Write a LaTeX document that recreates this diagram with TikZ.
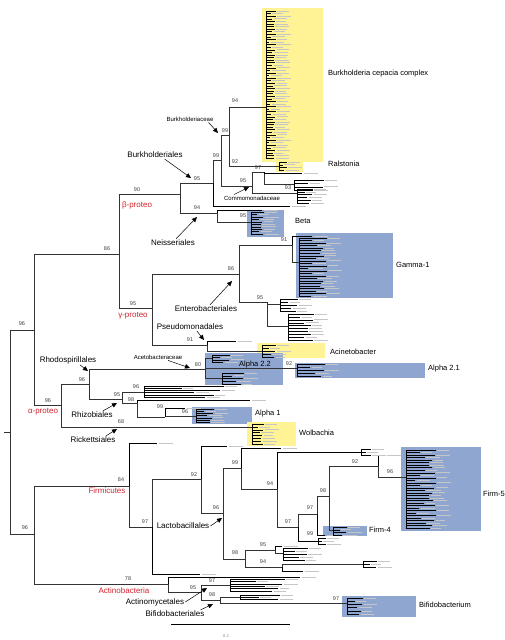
\documentclass[tikz,border=0pt]{standalone}
\usepackage{fontspec}
\setmainfont{Liberation Sans}
\usetikzlibrary{arrows.meta}

\definecolor{boxblue}{RGB}{143,167,208}
\definecolor{boxyellow}{RGB}{255,243,150}
\definecolor{taxred}{RGB}{210,35,45}

\tikzset{
  branch/.style={line width=0.6pt, black!80},
  leaf/.style={line width=0.4pt, black},
  twig/.style={line width=0.3pt, black},
  tag/.style={line width=0.6pt, gray!45},
  bs/.style={font=\fontsize{5.5}{6}\selectfont, text=black!75, inner sep=0pt},
  grp/.style={font=\fontsize{8}{9}\selectfont, inner sep=0pt},
  fam/.style={font=\fontsize{6}{7}\selectfont, inner sep=0pt},
  phy/.style={font=\fontsize{8}{9}\selectfont, text=taxred, inner sep=0pt},
  boxlab/.style={font=\fontsize{7.5}{9}\selectfont, anchor=west, inner sep=0pt},
  pointer/.style={-{Triangle[length=5pt,width=4.5pt]}, line width=0.5pt},
}

% comb of leaves: x, y top, y bottom, count, longest leaf
\newcommand{\leafcomb}[5]{%
  \draw[leaf] (#1,#2) -- (#1,#3);
  \foreach \i in {1,...,#4}{%
    \pgfmathsetmacro{\yy}{#2+(#3-#2)*(\i-1)/(#4-1)}%
    \pgfmathsetmacro{\ll}{#5*(0.3+0.7*abs(sin(\i*97)))}%
    \pgfmathsetmacro{\tx}{#1+\ll+1.5}%
    \pgfmathsetmacro{\tl}{9+5*abs(cos(\i*53))}%
    \draw[twig] (#1,\yy) -- ++(\ll,0);
    \draw[tag] (\tx,\yy) -- ++(\tl,0);
  }%
}
% grey label mark after a single leaf
\newcommand{\leaftag}[1]{\draw[tag] ([xshift=1.5pt]#1) -- ++(14,0);}

\begin{document}
\begin{tikzpicture}[x=1pt,y=-1pt]
\useasboundingbox (0,0) rectangle (505,640);

% shaded clades
\fill[boxyellow] (262,8) rectangle (323,162);
\fill[boxyellow] (276,161) rectangle (303,172);
\fill[boxblue] (247,210) rectangle (284,237);
\fill[boxblue] (296,233) rectangle (393,298);
\fill[boxyellow] (257,343) rectangle (325,358);
\fill[boxblue] (205,353) rectangle (283,385);
\fill[boxblue] (295,363) rectangle (425,378);
\fill[boxblue] (192,407) rectangle (252,424);
\fill[boxyellow] (247,422) rectangle (296,446);
\fill[boxblue] (401,447) rectangle (481,531);
\fill[boxblue] (323,526) rectangle (367,536);
\fill[boxblue] (342,596) rectangle (416,617);

% internal nodes
\coordinate (stub) at (4,432);
\coordinate (root) at (10,432);
\coordinate (proteo) at (34,330);
\coordinate (betagamma) at (119,254);
\coordinate (beta) at (180,194);
\coordinate (burkord) at (213,183);
\coordinate (burk99) at (221,160);
\coordinate (burkfam) at (229,135);
\coordinate (cepacia) at (266,107);
\coordinate (ralstonia) at (279,166);
\coordinate (comm) at (252,186);
\coordinate (comm97) at (264,172);
\coordinate (comm97b) at (294,184);
\coordinate (comm93) at (297,193);
\coordinate (neis) at (217,213);
\coordinate (betabox) at (251,222);
\coordinate (gamma) at (152,308);
\coordinate (entero) at (239,274);
\coordinate (gamma1) at (292,245);
\coordinate (gamma1b) at (299,262);
\coordinate (ent95) at (267,302);
\coordinate (ent95a) at (280,304);
\coordinate (ent95b) at (288,326);
\coordinate (pseudo) at (207,345);
\coordinate (acineto) at (238,351);
\coordinate (acinetob) at (262,351);
\coordinate (alpha) at (61,405);
\coordinate (rhodo) at (89,384);
\coordinate (aceto) at (205,369);
\coordinate (ace22a) at (212,358);
\coordinate (alpha21) at (297,368);
\coordinate (ace22b) at (222,378);
\coordinate (rhizo) at (122,399);
\coordinate (rhizo96) at (144,392);
\coordinate (rhizo98) at (137,403);
\coordinate (rhizo99) at (165,417);
\coordinate (alpha1) at (196,416);
\coordinate (wolbachia) at (252,427);
\coordinate (lower) at (34,534);
\coordinate (firm) at (129,486);
\coordinate (firm97) at (152,527);
\coordinate (firm92) at (201,479);
\coordinate (lacto) at (223,513);
\coordinate (lac99) at (241,468);
\coordinate (lac94) at (277,489);
\coordinate (lac97a) at (298,527);
\coordinate (lac97b) at (317,514);
\coordinate (lac98) at (329,496);
\coordinate (lac92) at (378,466);
\coordinate (firm5) at (406,477);
\coordinate (firm4) at (333,530);
\coordinate (lac98b) at (245,559);
\coordinate (lac95) at (275,550);
\coordinate (lac95a) at (283,553);
\coordinate (lac94b) at (282,567);
\coordinate (lac94c) at (363,564);
\coordinate (actino) at (168,584);
\coordinate (act95) at (201,592);
\coordinate (act97) at (230,585);
\coordinate (act98) at (220,600);
\coordinate (act98a) at (240,597);
\coordinate (bifido) at (347,603);

% single leaves
\coordinate (burkleaf) at (290,206);
\coordinate (neisleaf) at (262,210);
\coordinate (comm97a) at (302,173);
\coordinate (gammaleaf) at (312,236);
\coordinate (pseuleaf) at (236,341);
\coordinate (rhizoleaf) at (250,400);
\coordinate (rhizo99leaf) at (185,408);
\coordinate (firmleaf) at (157,443);
\coordinate (f92leaf) at (227,446);
\coordinate (l99leaf) at (281,448);
\coordinate (l94leaf) at (361,452);
\coordinate (l92leaf) at (385,455);
\coordinate (l97aleaf) at (318,541);
\coordinate (l97bleaf) at (325,535);
\coordinate (l95leaf) at (282,546);
\coordinate (l94leafb) at (303,571);
\coordinate (f97leaf) at (200,574);
\coordinate (actleaf) at (300,577);

% backbone
\draw[branch] (stub) -- (root);
\draw[branch] (root) |- (proteo);
\draw[branch] (root) |- (lower);
\draw[branch] (proteo) |- (betagamma);
\draw[branch] (proteo) |- (alpha);
\draw[branch] (betagamma) |- (beta);
\draw[branch] (betagamma) |- (gamma);
\draw[branch] (beta) |- (burkord);
\draw[branch] (beta) |- (neis);
\draw[branch] (burkord) |- (burk99);
\draw[branch] (burk99) |- (burkfam);
\draw[branch] (burk99) |- (comm);
\draw[branch] (burkfam) |- (cepacia);
\draw[branch] (burkfam) |- (ralstonia);
\draw[branch] (comm) |- (comm97);
\draw[branch] (comm) |- (comm93);
\draw[branch] (comm97) |- (comm97b);
\draw[branch] (neis) |- (betabox);
\draw[branch] (gamma) |- (entero);
\draw[branch] (gamma) |- (pseudo);
\draw[branch] (entero) |- (gamma1);
\draw[branch] (entero) |- (ent95);
\draw[branch] (gamma1) |- (gamma1b);
\draw[branch] (ent95) |- (ent95a);
\draw[branch] (ent95) |- (ent95b);
\draw[branch] (pseudo) |- (acineto);
\draw[branch] (acineto) |- (acinetob);
\draw[branch] (alpha) |- (rhodo);
\draw[branch] (alpha) |- (wolbachia);
\draw[branch] (rhodo) |- (aceto);
\draw[branch] (rhodo) |- (rhizo);
\draw[branch] (aceto) |- (ace22a);
\draw[branch] (aceto) |- (alpha21);
\draw[branch] (aceto) |- (ace22b);
\draw[branch] (rhizo) |- (rhizo96);
\draw[branch] (rhizo) |- (rhizo98);
\draw[branch] (rhizo98) |- (rhizo99);
\draw[branch] (rhizo99) |- (alpha1);
\draw[branch] (lower) |- (firm);
\draw[branch] (lower) |- (actino);
\draw[branch] (firm) |- (firm97);
\draw[branch] (firm97) |- (firm92);
\draw[branch] (firm92) |- (lacto);
\draw[branch] (lacto) |- (lac99);
\draw[branch] (lacto) |- (lac98b);
\draw[branch] (lac99) |- (lac94);
\draw[branch] (lac94) |- (lac97a);
\draw[branch] (lac97a) |- (lac97b);
\draw[branch] (lac97b) |- (lac98);
\draw[branch] (lac98) |- (lac92);
\draw[branch] (lac98) |- (firm4);
\draw[branch] (lac92) |- (firm5);
\draw[branch] (lac98b) |- (lac95);
\draw[branch] (lac98b) |- (lac94b);
\draw[branch] (lac95) |- (lac95a);
\draw[branch] (lac94b) |- (lac94c);
\draw[branch] (actino) |- (act95);
\draw[branch] (act95) |- (act97);
\draw[branch] (act95) |- (act98);
\draw[branch] (act98) |- (act98a);
\draw[branch] (act98) |- (bifido);

% single leaves
\draw[leaf] (burkord) |- (burkleaf); \leaftag{burkleaf}
\draw[leaf] (neis) |- (neisleaf); \leaftag{neisleaf}
\draw[leaf] (comm97) |- (comm97a); \leaftag{comm97a}
\draw[leaf] (gamma1) |- (gammaleaf); \leaftag{gammaleaf}
\draw[leaf] (pseudo) |- (pseuleaf); \leaftag{pseuleaf}
\draw[leaf] (rhizo98) |- (rhizoleaf); \leaftag{rhizoleaf}
\draw[leaf] (rhizo99) |- (rhizo99leaf); \leaftag{rhizo99leaf}
\draw[leaf] (firm) |- (firmleaf); \leaftag{firmleaf}
\draw[leaf] (firm92) |- (f92leaf); \leaftag{f92leaf}
\draw[leaf] (lac99) |- (l99leaf); \leaftag{l99leaf}
\draw[leaf] (lac94) |- (l94leaf);
\draw[leaf] (lac92) |- (l92leaf); \leaftag{l92leaf}
\draw[leaf] (lac97a) |- (l97aleaf);
\draw[leaf] (lac97b) |- (l97bleaf); \leaftag{l97bleaf}
\draw[leaf] (lac95) |- (l95leaf); \leaftag{l95leaf}
\draw[leaf] (lac94b) |- (l94leafb); \leaftag{l94leafb}
\draw[leaf] (firm97) |- (f97leaf); \leaftag{f97leaf}
\draw[leaf] (actino) |- (actleaf); \leaftag{actleaf}

% leaf combs
\leafcomb{266}{11}{158}{58}{10}
\leafcomb{279}{162}{170}{4}{8}
\leafcomb{294}{180}{190}{4}{30}
\leafcomb{297}{189}{203}{6}{16}
\leafcomb{251}{212}{234}{10}{13}
\leafcomb{299}{238}{296}{24}{28}
\leafcomb{280}{299}{311}{5}{18}
\leafcomb{288}{314}{340}{10}{26}
\leafcomb{262}{345}{357}{5}{14}
\leafcomb{212}{355}{362}{4}{18}
\leafcomb{297}{364}{376}{5}{28}
\leafcomb{222}{373}{384}{5}{22}
\leafcomb{144}{386}{397}{6}{80}
\leafcomb{196}{409}{422}{7}{18}
\leafcomb{252}{424}{444}{8}{12}
\leafcomb{406}{450}{528}{32}{30}
\leafcomb{361}{449}{455}{3}{10}
\leafcomb{333}{527}{535}{4}{14}
\leafcomb{318}{538}{544}{3}{8}
\leafcomb{283}{548}{560}{5}{25}
\leafcomb{363}{561}{567}{3}{14}
\leafcomb{230}{579}{591}{6}{55}
\leafcomb{240}{595}{599}{3}{40}
\leafcomb{347}{598}{614}{6}{16}

% bootstrap values
\foreach \p/\t [count=\k] in {
  {22,324}/96, {107,249}/86, {137,190}/90, {197,179}/95, {216,156}/99,
  {225,131}/99, {235,101}/94, {235,162}/92, {243,181}/95, {258,168}/97,
  {288,188}/93, {197,208}/94, {243,216}/95, {133,304}/95, {231,269}/86,
  {284,240}/91, {260,298}/95, {190,340}/91, {48,401}/96, {82,380}/96,
  {198,365}/80, {289,364}/92, {117,395}/95, {136,387}/96, {131,400}/98,
  {160,407}/99, {185,412}/96, {121,422}/68, {25,528}/96, {121,480}/84,
  {145,522}/97, {194,475}/92, {216,508}/96, {235,463}/99, {270,484}/94,
  {288,522}/97, {310,508}/97, {323,491}/98, {355,462}/92, {390,472}/96,
  {310,534}/99, {235,553}/98, {263,545}/95, {263,562}/94, {128,579}/78,
  {193,588}/95, {212,581}/97, {212,595}/98, {336,599}/97}
  \node[bs] (boot\k) at (\p) {\t};

% phyla
\node[phy] (betalab) at (137,205) {β-proteo};
\node[phy] (gammalab) at (133,316) {γ-proteo};
\node[phy] (alphalab) at (43,412) {α-proteo};
\node[phy] (firmlab) at (107,491) {Firmicutes};
\node[phy] (actinolab) at (124,591) {Actinobacteria};

% clade names
\node[boxlab] (cepacialab) at (328,74) {Burkholderia cepacia complex};
\node[boxlab] (ralstonialab) at (328,164) {Ralstonia};
\node[boxlab] (betaboxlab) at (295,221) {Beta};
\node[boxlab] (gamma1lab) at (396,265) {Gamma-1};
\node[boxlab] (acinetolab) at (330,352) {Acinetobacter};
\node[boxlab] (alpha22lab) at (239,365) {Alpha 2.2};
\node[boxlab] (alpha21lab) at (428,369) {Alpha 2.1};
\node[boxlab] (alpha1lab) at (255,414) {Alpha 1};
\node[boxlab] (wolbachialab) at (299,433) {Wolbachia};
\node[boxlab] (firm5lab) at (483,494) {Firm-5};
\node[boxlab] (firm4lab) at (369,530) {Firm-4};
\node[boxlab] (bifidolab) at (419,605) {Bifidobacterium};

% orders and families with pointers
\coordinate (bfamtip) at (218,133);
\coordinate (burktip) at (191,178);
\coordinate (commtip) at (249,187);
\coordinate (neistip) at (197,217);
\coordinate (enttip) at (232,281);
\coordinate (pseutip) at (204,340);
\coordinate (rhodotip) at (88,371);
\coordinate (acetip) at (190,368);
\coordinate (rhizotip) at (117,403);
\coordinate (ricktip) at (117,429);
\coordinate (lactotip) at (222,518);
\coordinate (acttip) at (207,588);
\coordinate (bifitip) at (213,604);

\node[fam] (bfamlab) at (190,119) {Burkholderiaceae};
\node[grp] (burklab) at (155,155) {Burkholderiales};
\node[fam] (commlab) at (252,198) {Commomonadaceae};
\node[grp] (neislab) at (173,243) {Neisseriales};
\node[grp] (entlab) at (206,309) {Enterobacteriales};
\node[grp] (pseulab) at (190,327) {Pseudomonadales};
\node[grp] (rhodolab) at (68,360) {Rhodospirillales};
\node[fam] (acelab) at (158,357) {Acetobacteraceae};
\node[grp] (rhizolab) at (92,415) {Rhizobiales};
\node[grp] (ricklab) at (93,440) {Rickettsiales};
\node[grp] (lactolab) at (183,526) {Lactobacillales};
\node[grp] (actlab) at (155,602) {Actinomycetales};
\node[grp] (bifilab) at (175,614) {Bifidobacteriales};

\draw[pointer] ([xshift=-5pt,yshift=-1pt]bfamlab.south east) -- (bfamtip);
\draw[pointer] ([xshift=-18pt,yshift=-1pt]burklab.south east) -- (burktip);
\draw[pointer] ([xshift=10pt,yshift=1pt]commlab.north west) -- (commtip);
\draw[pointer] ([xshift=3pt,yshift=1pt]neislab.north) -- (neistip);
\draw[pointer] ([xshift=4pt,yshift=1pt]entlab.north) -- (enttip);
\draw[pointer] ([xshift=7pt,yshift=-1pt]pseulab.south) -- (pseutip);
\draw[pointer] ([xshift=12pt,yshift=-1pt]rhodolab.south) -- (rhodotip);
\draw[pointer] ([xshift=10pt,yshift=-1pt]acelab.south) -- (acetip);
\draw[pointer] ([xshift=11pt,yshift=1pt]rhizolab.north) -- (rhizotip);
\draw[pointer] ([xshift=13pt,yshift=1pt]ricklab.north) -- (ricktip);
\draw[pointer] ([xshift=1pt]lactolab.east) -- (lactotip);
\draw[pointer] ([xshift=1pt]actlab.east) -- (acttip);
\draw[pointer] ([xshift=-4pt,yshift=1pt]bifilab.north east) -- (bifitip);

% scale bar
\coordinate (scaleleft) at (171,624);
\coordinate (scaleright) at (290,624);
\draw[leaf] (scaleleft) -- (scaleright);
\node[bs, font=\fontsize{4}{5}\selectfont, text=gray] (scalelab) at (226,636) {0.2};
\end{tikzpicture}
\end{document}
